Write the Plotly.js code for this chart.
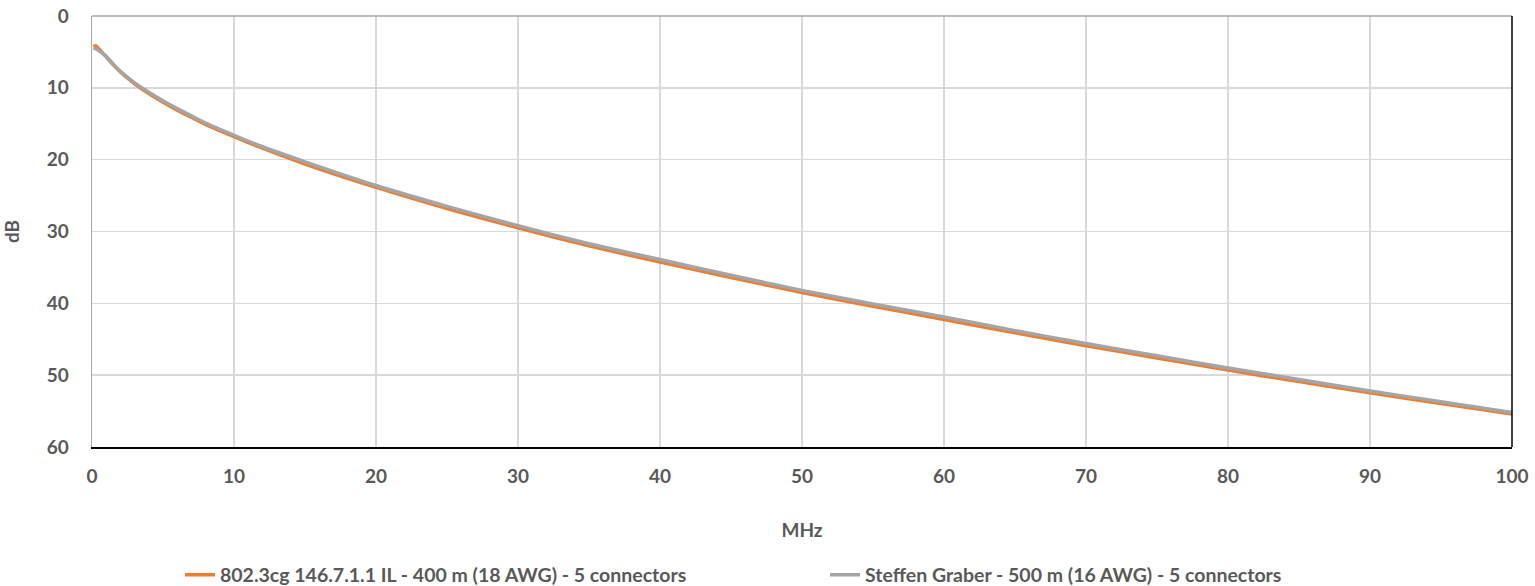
<!DOCTYPE html>
<html>
<head>
<meta charset="utf-8">
<script src="https://cdn.plot.ly/plotly-3.0.1.min.js"></script>
<style>html,body{margin:0;padding:0;background:#fff;}#chart{width:1535px;height:586px;}</style>
</head>
<body>
<div id="chart"></div>
<script>
// Frequencies in MHz
const freqA = [0.1,0.25,0.5,1,1.5,2,3,4,5,6,7,8,10,12,15,20,25,30,35,40,45,50,55,60,65,70,75,80,85,90,95,100];
// 802.3cg 146.7.1.1 IL - 400 m (18 AWG) - 5 connectors (dB)
const ilA = [4.3,4.15,4.6,5.7,6.8,7.8,9.45,10.8,12.0,13.1,14.1,15.1,16.8,18.4,20.6,23.85,26.8,29.5,32.0,34.25,36.4,38.5,40.4,42.25,44.1,45.9,47.6,49.3,50.9,52.45,53.95,55.4];
const freqB = [0.1,0.3,0.6,1,1.5,2,3,4,5,6,7,8,10,12,15,20,25,30,35,40,45,50,55,60,65,70,75,80,85,90,95,100];
// Steffen Graber - 500 m (16 AWG) - 5 connectors (dB)
const ilB = [4.45,4.6,5.0,5.6,6.7,7.7,9.3,10.6,11.8,12.9,13.9,14.9,16.6,18.2,20.3,23.6,26.5,29.2,31.7,33.9,36.1,38.2,40.1,41.9,43.8,45.6,47.3,49.0,50.6,52.2,53.7,55.2];
const nameA = "802.3cg 146.7.1.1 IL - 400 m (18 AWG) - 5 connectors";
const nameB = "Steffen Graber - 500 m (16 AWG) - 5 connectors";
const xTicks = [0,10,20,30,40,50,60,70,80,90,100];
const yTicks = [0,10,20,30,40,50,60];

const fontFam = "Lato, 'Open Sans', sans-serif";
const tickFont = {family: fontFam, size: 19, color: '#595959', weight: 'bold'};

const traces = [
  {x: freqA, y: ilA, name: nameA, type: 'scatter', mode: 'lines',
   line: {color: '#ED7D31', width: 3.5, shape: 'spline', smoothing: 0.6}},
  {x: freqB, y: ilB, name: nameB, type: 'scatter', mode: 'lines',
   line: {color: '#A5A5A5', width: 3.5, shape: 'spline', smoothing: 0.6}}
];

const layout = {
  width: 1535, height: 586,
  margin: {l: 92, r: 23, t: 16, b: 139},
  paper_bgcolor: '#fff', plot_bgcolor: '#fff',
  showlegend: true,
  legend: {orientation: 'h', xref: 'container', yref: 'container',
           x: 180 / 1535, xanchor: 'left', y: 1 - 575 / 586, yanchor: 'middle',
           entrywidth: 600, entrywidthmode: 'pixels', borderwidth: 0,
           font: {family: fontFam, size: 19.5, color: '#595959', weight: 'bold'}},
  xaxis: {range: [0, 100], tickvals: xTicks, ticktext: xTicks.map(String),
          showgrid: true, gridcolor: '#d9d9d9', gridwidth: 1.5,
          showline: true, linecolor: '#000', linewidth: 1.5,
          zeroline: false, ticks: '', ticklabelstandoff: 12,
          tickfont: tickFont,
          title: {text: 'MHz', font: tickFont, standoff: 37}},
  yaxis: {range: [60, 0], tickvals: yTicks, ticktext: yTicks.map(String),
          showgrid: true, gridcolor: '#d9d9d9', gridwidth: 1.5,
          showline: true, linecolor: '#a6a6a6', linewidth: 1.5,
          zeroline: false, ticks: '', ticklabelstandoff: 18,
          tickfont: tickFont,
          title: {text: 'dB', font: tickFont, standoff: 22}},
  shapes: [
    {type: 'line', xref: 'paper', yref: 'paper', x0: 0, x1: 1, y0: 1, y1: 1,
     line: {color: '#a6a6a6', width: 1.5}},
    {type: 'line', xref: 'paper', yref: 'paper', x0: 1, x1: 1, y0: 0, y1: 1,
     line: {color: '#000', width: 1.5}}
  ]
};

Plotly.newPlot('chart', traces, layout, {displayModeBar: false, staticPlot: true});
</script>
</body>
</html>
